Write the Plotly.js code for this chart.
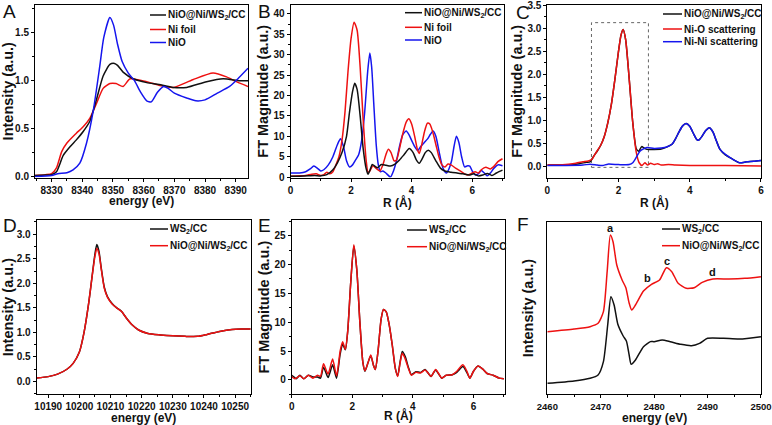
<!DOCTYPE html>
<html>
<head>
<meta charset="utf-8">
<script src="https://cdn.plot.ly/plotly-3.0.1.min.js"></script>
<style>
  html, body { margin: 0; padding: 0; background: #fff; }
  #chart { width: 772px; height: 425px; }
</style>
</head>
<body>
<div id="chart"></div>
<script>
// ---------------- Panel A: Ni K-edge XANES ----------------
const aBlackX = [8324.6, 8328, 8330, 8331.6, 8333.8, 8336, 8338, 8340.3, 8342.5, 8344.6, 8346.8, 8349, 8350.5, 8351.5, 8353.3, 8356.6, 8361, 8365, 8369.6, 8374, 8380.5, 8385.9, 8391.3, 8394];
const aBlackY = [0.01, 0.015, 0.02, 0.05, 0.22, 0.31, 0.38, 0.47, 0.58, 0.8, 1.05, 1.17, 1.18, 1.16, 1.09, 1.02, 0.98, 0.96, 0.93, 0.93, 0.99, 1.02, 1.0, 1.0];
const aRedX = [8324.6, 8328, 8330, 8331.6, 8333.3, 8335, 8338, 8340.3, 8342.5, 8344.6, 8346.8, 8349, 8351, 8353.3, 8355.6, 8361, 8365.3, 8369.6, 8376, 8382.6, 8387, 8390.2, 8394];
const aRedY = [0.01, 0.02, 0.03, 0.09, 0.26, 0.35, 0.45, 0.52, 0.61, 0.76, 0.92, 0.97, 0.97, 0.94, 1.02, 0.99, 0.95, 0.93, 1.01, 1.08, 1.04, 0.99, 0.94];
const aBlueX = [8324.6, 8330, 8332, 8335, 8337, 8339.2, 8341.4, 8343.6, 8345.7, 8347, 8349, 8350.2, 8351.5, 8353, 8355, 8357, 8359, 8361, 8362.5, 8364.5, 8366.5, 8368, 8370, 8374, 8377, 8380, 8384, 8388, 8391, 8394];
const aBlueY = [0.0, 0.01, 0.03, 0.04, 0.07, 0.14, 0.35, 0.69, 1.15, 1.45, 1.66, 1.58, 1.38, 1.2, 1.08, 1.0, 0.88, 0.79, 0.78, 0.88, 0.94, 0.92, 0.87, 0.82, 0.79, 0.8, 0.87, 0.94, 1.03, 1.13];

// ---------------- Panel B: FT EXAFS ----------------
const bBlackX = [0, 0.3, 0.6, 0.8, 1.0, 1.2, 1.4, 1.55, 1.7, 1.85, 1.95, 2.05, 2.12, 2.2, 2.3, 2.4, 2.5, 2.56, 2.63, 2.7, 2.8, 2.87, 3.0, 3.15, 3.3, 3.45, 3.6, 3.75, 3.92, 4.05, 4.15, 4.25, 4.35, 4.45, 4.55, 4.65, 4.8, 4.95, 5.1, 5.3, 5.5, 5.7, 5.9, 6.05, 6.2, 6.35, 6.5, 6.65, 6.8, 7.0];
const bBlackY = [0.2, 0.2, 0.3, 0.4, 0.3, 0.6, 1.8, 3.5, 6.0, 10, 16, 21, 23, 21.5, 15, 7, 2, 0.7, 1.8, 3.1, 2.6, 2.3, 3.1, 2.9, 2.7, 3.2, 4.2, 5.5, 7.0, 6.0, 4.3, 3.4, 4.5, 6.0, 6.6, 6.0, 4.0, 2.2, 1.5, 1.2, 1.0, 0.8, 0.5, 0.8, 0.3, 0.5, 0.9, 0.4, 1.0, 1.7];
const bRedX = [0, 0.3, 0.5, 0.7, 0.85, 1.0, 1.1, 1.2, 1.3, 1.4, 1.5, 1.6, 1.7, 1.8, 1.9, 2.0, 2.1, 2.2, 2.3, 2.4, 2.5, 2.56, 2.62, 2.72, 2.85, 2.95, 3.05, 3.15, 3.23, 3.32, 3.42, 3.5, 3.6, 3.72, 3.82, 3.91, 4.0, 4.1, 4.2, 4.25, 4.32, 4.42, 4.52, 4.6, 4.7, 4.8, 4.9, 5.0, 5.1, 5.2, 5.3, 5.45, 5.6, 5.75, 5.85, 6.0, 6.1, 6.2, 6.3, 6.45, 6.6, 6.7, 6.85, 7.0];
const bRedY = [0.2, 0.3, 0.4, 0.7, 0.8, 0.4, 0.6, 1.2, 0.8, 1.3, 3.0, 5.0, 9, 16, 26, 34, 38, 36, 27, 14, 4, 1.2, 1.5, 2.8, 2.0, 1.5, 3.0, 5.5, 6.8, 6.0, 4.0, 4.2, 7, 11, 13.5, 14.3, 13, 10, 6.5, 5.8, 7.5, 11, 13.2, 13, 11, 8, 5, 3, 2.5, 3.2, 3.0, 2.2, 1.5, 0.8, 0.5, 1.0, 1.3, 1.0, 1.8, 2.4, 2.0, 2.5, 3.8, 4.5];
const bBlueX = [0, 0.3, 0.5, 0.65, 0.77, 0.9, 1.0, 1.1, 1.25, 1.4, 1.55, 1.65, 1.75, 1.85, 1.95, 2.05, 2.15, 2.25, 2.35, 2.45, 2.55, 2.62, 2.68, 2.75, 2.83, 2.9, 2.97, 3.05, 3.15, 3.3, 3.4, 3.5, 3.6, 3.7, 3.82, 3.92, 4.0, 4.1, 4.2, 4.3, 4.42, 4.52, 4.62, 4.71, 4.8, 4.9, 5.0, 5.08, 5.15, 5.22, 5.32, 5.4, 5.48, 5.56, 5.65, 5.75, 5.85, 5.92, 6.0, 6.1, 6.2, 6.3, 6.4, 6.5, 6.6, 6.72, 6.85, 7.0];
const bBlueY = [1.0, 1.0, 1.3, 2.0, 2.7, 2.1, 1.5, 1.8, 3.0, 5.0, 8.0, 9.4, 7.5, 4, 2.5, 3, 4.2, 5.5, 9, 16, 26, 30.4, 27, 18, 8, 3, 1.3, 1.5, 1.0, 0.0, 1.5, 4, 7.5, 10.3, 11.3, 10.3, 9, 7.5, 6.5, 7.5, 8.5, 9.3, 10.5, 11.3, 10, 6.5, 3.0, 1.5, 1.0, 1.8, 4, 7.5, 10.0, 8.5, 5, 2.5, 2.8, 2.7, 1.5, 0.5, 0.8, 1.6, 1.0, 0.3, 1.0, 2.2, 3.0, 2.8];

// ---------------- Panel C: EXAFS fitting ----------------
const cBlackX = [0, 0.3, 0.6, 0.9, 1.1, 1.2, 1.3, 1.4, 1.5, 1.6, 1.7, 1.8, 1.9, 2.0, 2.07, 2.13, 2.2, 2.3, 2.4, 2.5, 2.57, 2.65, 2.72, 2.8, 3.0, 3.2, 3.35, 3.5, 3.6, 3.7, 3.8, 3.9, 4.0, 4.1, 4.2, 4.25, 4.35, 4.45, 4.55, 4.65, 4.75, 4.85, 5.0, 5.2, 5.4, 5.6, 5.8, 6.0];
const cBlackY = [0.03, 0.03, 0.03, 0.06, 0.09, 0.1, 0.22, 0.33, 0.46, 0.65, 0.95, 1.35, 1.9, 2.5, 2.85, 2.97, 2.75, 1.9, 0.95, 0.38, 0.33, 0.43, 0.4, 0.37, 0.37, 0.38, 0.42, 0.48, 0.6, 0.75, 0.88, 0.93, 0.87, 0.72, 0.58, 0.57, 0.66, 0.78, 0.84, 0.75, 0.55, 0.37, 0.25, 0.16, 0.08, 0.1, 0.11, 0.13];
const cRedX = [0, 0.3, 0.6, 0.8, 1.0, 1.15, 1.25, 1.35, 1.5, 1.6, 1.7, 1.8, 1.9, 2.0, 2.07, 2.13, 2.2, 2.3, 2.4, 2.5, 2.58, 2.66, 2.74, 2.82, 2.9, 3.0, 3.1, 3.2, 3.4, 3.6, 4.0, 5.0, 6.0];
const cRedY = [0.03, 0.03, 0.05, 0.07, 0.1, 0.12, 0.15, 0.28, 0.46, 0.65, 0.95, 1.35, 1.9, 2.5, 2.85, 2.97, 2.75, 1.9, 0.95, 0.3, 0.08, 0.02, 0.08, 0.03, 0.07, 0.04, 0.06, 0.03, 0.04, 0.03, 0.02, 0.02, 0.01];
const cBlueX = [0, 0.5, 1.0, 1.2, 1.4, 1.55, 1.7, 2.0, 2.3, 2.4, 2.5, 2.6, 2.7, 2.8, 3.0, 3.2, 3.35, 3.5, 3.6, 3.7, 3.8, 3.9, 4.0, 4.1, 4.2, 4.25, 4.35, 4.45, 4.55, 4.65, 4.75, 4.85, 5.0, 5.2, 5.4, 5.6, 5.8, 6.0];
const cBlueY = [0.02, 0.02, 0.03, 0.05, 0.03, 0.02, 0.05, 0.04, 0.04, 0.08, 0.2, 0.33, 0.38, 0.41, 0.39, 0.4, 0.42, 0.48, 0.6, 0.75, 0.88, 0.93, 0.87, 0.72, 0.58, 0.57, 0.66, 0.78, 0.84, 0.75, 0.55, 0.37, 0.26, 0.16, 0.08, 0.1, 0.11, 0.13];
const cBoxX = [1.24, 2.84];
const cBoxY = [-0.02, 3.12];

// ---------------- Panel D: W L3-edge XANES ----------------
const dEnergy = [10186.3, 10190, 10193, 10196, 10198, 10200, 10201.5, 10203, 10204, 10205, 10205.6, 10206.3, 10207, 10208, 10209, 10210.5, 10212, 10213.5, 10215, 10217, 10219, 10222, 10226, 10230, 10234, 10238, 10241, 10245, 10249, 10252, 10255];
const dBlack = [0.07, 0.1, 0.15, 0.25, 0.37, 0.6, 1.0, 1.6, 2.1, 2.6, 2.79, 2.65, 2.32, 1.92, 1.73, 1.59, 1.5, 1.43, 1.3, 1.15, 1.05, 0.98, 0.95, 0.93, 0.92, 0.92, 0.96, 1.02, 1.06, 1.07, 1.07];
const dRed = [0.07, 0.1, 0.15, 0.25, 0.37, 0.6, 1.0, 1.6, 2.1, 2.55, 2.71, 2.6, 2.3, 1.9, 1.72, 1.58, 1.5, 1.43, 1.3, 1.15, 1.05, 0.98, 0.95, 0.93, 0.92, 0.92, 0.96, 1.02, 1.06, 1.07, 1.07];

// ---------------- Panel E: W FT EXAFS ----------------
const eR = [0, 0.1, 0.15, 0.27, 0.4, 0.55, 0.7, 0.85, 0.95, 1.05, 1.2, 1.35, 1.48, 1.6, 1.68, 1.77, 1.85, 1.95, 2.05, 2.15, 2.25, 2.35, 2.42, 2.52, 2.61, 2.7, 2.76, 2.85, 2.95, 3.03, 3.12, 3.22, 3.32, 3.42, 3.5, 3.58, 3.65, 3.75, 3.85, 3.95, 4.1, 4.25, 4.4, 4.5, 4.6, 4.75, 4.85, 4.95, 5.1, 5.3, 5.45, 5.65, 5.78, 5.88, 6.0, 6.15, 6.3, 6.45, 6.65, 6.85, 7.0];
const eBlack = [0.8, 0.4, 0.2, 0.8, 0.2, 0.8, 0.5, 0.5, 0.3, 2.2, 0.4, 2.6, 0.3, 4.5, 6.2, 5.2, 8.5, 17, 23.2, 19, 10, 3, 1.5, 3, 4.2, 2.5, 1.8, 5, 10.5, 12.2, 11.8, 9.5, 6, 2, 0.7, 3.2, 4.9, 4.0, 2.2, 0.9, 1.4, 1.3, 1.8, 1.2, 0.6, 1.7, 1.0, 0.3, 0.8, 0.9, 1.3, 2.3, 1.3, 0.3, 1.5, 2.4, 1.9, 1.1, 0.8, 0.3, 0.2];
const eRed = [0.5, 0.2, 0.3, 0.7, 0.2, 0.8, 0.3, 0.8, 0.6, 2.8, 1.0, 3.6, 0.7, 5.0, 6.6, 5.3, 8.5, 17, 23.4, 19, 10, 3, 1.6, 3, 4.3, 2.5, 1.8, 5, 10.5, 12.2, 11.8, 9.5, 6, 2, 0.6, 3, 4.6, 3.6, 2, 0.8, 1.3, 1.2, 1.7, 1.2, 0.6, 1.8, 1.1, 0.3, 0.8, 0.9, 1.5, 2.6, 1.5, 0.3, 1.5, 2.4, 1.9, 1.1, 0.8, 0.3, 0.2];

// ---------------- Panel F: S K-edge XANES (offset, a.u.) ----------------
const fBlackX = [2460, 2465, 2468, 2469.5, 2470.5, 2471.3, 2471.9, 2472.5, 2473.2, 2474.2, 2474.8, 2475.3, 2475.7, 2476.5, 2478, 2479.3, 2480, 2481.5, 2483, 2485, 2487, 2488.5, 2490, 2493, 2496, 2500];
const fBlackY = [0.33, 0.4, 0.48, 0.58, 0.98, 2.08, 2.93, 2.68, 2.1, 1.75, 1.6, 1.2, 0.9, 1.03, 1.43, 1.58, 1.58, 1.63, 1.58, 1.5, 1.46, 1.53, 1.68, 1.68, 1.66, 1.73];
const fRedX = [2460, 2465, 2468, 2469.5, 2470.5, 2471.2, 2471.8, 2472.3, 2473, 2474, 2474.7, 2475.3, 2475.8, 2476.5, 2478, 2479.5, 2481, 2482.3, 2483.3, 2484.5, 2486, 2487.5, 2489, 2491, 2494, 2497, 2500];
const fRedY = [1.88, 1.96, 2.03, 2.13, 2.48, 3.68, 4.78, 4.58, 3.88, 3.43, 3.2, 2.75, 2.53, 2.68, 3.1, 3.3, 3.43, 3.8, 3.68, 3.33, 3.18, 3.2, 3.36, 3.46, 3.46, 3.48, 3.53];
const fPeakLabels = ['a', 'b', 'c', 'd'];
const fPeakX = [2471.85, 2478.7, 2482.4, 2490.9];
const fPeakY = [4.98, 3.48, 4.0, 3.68];

// ---------------- Legends and labels ----------------
const legendA = ['NiO@Ni/WS<sub>2</sub>/CC', 'Ni foil', 'NiO'];
const legendB = ['NiO@Ni/WS<sub>2</sub>/CC', 'Ni foil', 'NiO'];
const legendC = ['NiO@Ni/WS<sub>2</sub>/CC', 'Ni-O scattering', 'Ni-Ni scattering'];
const legendD = ['WS<sub>2</sub>/CC', 'NiO@Ni/WS<sub>2</sub>/CC'];
const legendE = ['WS<sub>2</sub>/CC', 'NiO@Ni/WS<sub>2</sub>/CC'];
const legendF = ['WS<sub>2</sub>/CC', 'NiO@Ni/WS<sub>2</sub>/CC'];
const panelLetters = ['A', 'B', 'C', 'D', 'E', 'F'];
const xTitles = ['energy (eV)', 'R (Å)', 'R (Å)', 'energy (eV)', 'R (Å)', 'energy (eV)'];
const yTitles = ['Intensity (a.u.)', 'FT Magnitude (a.u.)', 'FT Magnitude (a.u.)', 'Intensity (a.u.)', 'FT Magnitude (a.u.)', 'Intensity (a.u.)'];

// ---------------- Styling ----------------
const W = 772, H = 425;
const FONT = 'Liberation Sans, Arial, sans-serif';
const BLACK = '#111111', RED = '#ee1111', BLUE = '#1515ee';
const px = v => v / W;
const py = v => 1 - v / H;

function line(x, y, color, xa, ya) {
  return { x: x, y: y, type: 'scatter', mode: 'lines', xaxis: xa, yaxis: ya,
           line: { color: color, width: 1.5, shape: 'spline', smoothing: 0.6 },
           showlegend: false, hoverinfo: 'skip' };
}

const traces = [
  line(aRedX, aRedY, RED, 'x', 'y'),
  line(aBlackX, aBlackY, BLACK, 'x', 'y'),
  line(aBlueX, aBlueY, BLUE, 'x', 'y'),
  line(bBlueX, bBlueY, BLUE, 'x2', 'y2'),
  line(bRedX, bRedY, RED, 'x2', 'y2'),
  line(bBlackX, bBlackY, BLACK, 'x2', 'y2'),
  line(cBlackX, cBlackY, BLACK, 'x3', 'y3'),
  line(cRedX, cRedY, RED, 'x3', 'y3'),
  line(cBlueX, cBlueY, BLUE, 'x3', 'y3'),
  line(dEnergy, dBlack, BLACK, 'x4', 'y4'),
  line(dEnergy, dRed, RED, 'x4', 'y4'),
  line(eR, eBlack, BLACK, 'x5', 'y5'),
  line(eR, eRed, RED, 'x5', 'y5'),
  line(fBlackX, fBlackY, BLACK, 'x6', 'y6'),
  line(fRedX, fRedY, RED, 'x6', 'y6')
];

function axis(domain, range, dtick, tick0, minorDtick, anchor, extra) {
  const a = {
    domain: domain, range: range, dtick: dtick, tick0: tick0, anchor: anchor,
    showline: true, mirror: true, linecolor: '#000', linewidth: 1,
    ticks: 'outside', ticklen: 3, tickwidth: 1, tickcolor: '#000', tickangle: 0,
    tickfont: { family: FONT, size: 10, color: '#111', weight: 'bold' },
    showgrid: false, zeroline: false, fixedrange: true,
    minor: { dtick: minorDtick, tick0: tick0, ticks: 'outside', ticklen: 2, tickcolor: '#000', showgrid: false }
  };
  return Object.assign(a, extra || {});
}
function yTitle(i, standoff) {
  return { title: { text: yTitles[i], font: { family: FONT, size: 14.5, color: '#111', weight: 'bold' }, standoff: standoff } };
}

const topY = [py(177.5), py(5)];
const botY = [py(394.3), py(220)];
const botYF = [py(394.3), py(221.7)];

const layout = {
  width: W, height: H,
  margin: { l: 0, r: 0, t: 0, b: 0 },
  paper_bgcolor: '#fff', plot_bgcolor: '#fff',
  showlegend: false,
  font: { family: FONT, color: '#111' },
  xaxis:  axis([px(35), px(248)], [8324.6, 8394], 10, 8330, 5, 'y'),
  yaxis:  axis(topY, [-0.01, 1.79], 0.5, 0, 0.25, 'x', Object.assign({ tickformat: '.1f' }, yTitle(0, 1))),
  xaxis2: axis([px(290.5), px(504)], [0, 7.05], 2, 0, 1, 'y2'),
  yaxis2: axis(topY, [-0.1, 42.2], 5, 0, 2.5, 'x2', yTitle(1, 1)),
  xaxis3: axis([px(547.3), px(761)], [0, 6.001], 2, 0, 1, 'y3', { ticklabeloverflow: 'allow' }),
  yaxis3: axis(topY, [-0.24, 3.503], 0.5, 0, 0.25, 'x3', Object.assign({ tickformat: '.1f' }, yTitle(2, 1))),
  xaxis4: axis([px(36.7), px(250.7)], [10186.3, 10255], 10, 10190, 5, 'y4', { tickformat: 'd' }),
  yaxis4: axis(botY, [-0.26, 3.29], 0.5, 0, 0.25, 'x4', Object.assign({ tickformat: '.1f' }, yTitle(3, 1))),
  xaxis5: axis([px(291.7), px(505)], [0, 7.04], 2, 0, 1, 'y5'),
  yaxis5: axis(botY, [-2.5, 27.7], 5, 0, 2.5, 'x5', yTitle(4, 1)),
  xaxis6: axis([px(547.3), px(761)], [2459.99, 2500.01], 10, 2460, 5, 'y6',
               { tickformat: 'd', ticklabeloverflow: 'allow', tickfont: { family: FONT, size: 9.5, color: '#111', weight: 'bold' } }),
  yaxis6: axis(botYF, [0, 5.18], 1, 0, 0.5, 'x6', Object.assign({ showticklabels: false, ticks: '', minor: { ticks: '' } }, yTitle(5, 9))),
  shapes: [],
  annotations: []
};

// x-axis titles (placed like the original, close under the tick labels)
const xTitleY = [201, 202, 202, 417.5, 415, 417.5];
['x', 'x2', 'x3', 'x4', 'x5', 'x6'].forEach((ax, i) => {
  layout.annotations.push({ xref: ax + ' domain', yref: 'paper', x: 0.5, y: py(xTitleY[i]), xanchor: 'center', yanchor: 'middle',
    text: xTitles[i], showarrow: false, font: { family: FONT, size: 12, color: '#111', weight: 'bold' } });
});

// dotted fitting window in panel C
layout.shapes.push({ type: 'rect', xref: 'x3', yref: 'y3', x0: cBoxX[0], x1: cBoxX[1], y0: cBoxY[0], y1: cBoxY[1],
  line: { color: '#666', width: 1, dash: 'dot' }, fillcolor: 'rgba(0,0,0,0)', layer: 'below' });

// manual legends (short line samples as in the original)
function addLegend(labels, colors, xs0, xs1, xt, rows) {
  labels.forEach((lab, i) => {
    layout.shapes.push({ type: 'line', xref: 'paper', yref: 'paper', x0: px(xs0), x1: px(xs1), y0: py(rows[i]), y1: py(rows[i]),
      line: { color: colors[i], width: 1.5 } });
    layout.annotations.push({ xref: 'paper', yref: 'paper', x: px(xt), y: py(rows[i]), xanchor: 'left', yanchor: 'middle',
      text: lab, showarrow: false, font: { family: FONT, size: 10, color: '#111', weight: 'bold' } });
  });
}
addLegend(legendA, [BLACK, RED, BLUE], 150, 166, 166, [15, 29.5, 42.5]);
addLegend(legendB, [BLACK, RED, BLUE], 405, 422, 422, [12.7, 27.3, 40]);
addLegend(legendC, [BLACK, RED, BLUE], 663, 682, 682, [14, 29, 41.7]);
addLegend(legendD, [BLACK, RED], 150, 168, 168, [229, 245.7]);
addLegend(legendE, [BLACK, RED], 407, 427, 427, [230, 246.7]);
addLegend(legendF, [BLACK, RED], 662, 680, 680, [229, 245.7]);

// peak labels in panel F
fPeakLabels.forEach((t, i) => {
  layout.annotations.push({ xref: 'x6', yref: 'y6', x: fPeakX[i], y: fPeakY[i], text: t, showarrow: false,
    xanchor: 'center', yanchor: 'middle', font: { family: FONT, size: 11, color: '#111', weight: 'bold' } });
});

// panel letters
const letterPos = [[1, -1], [256, -1], [514, 0], [1, 213], [256, 213], [515, 212]];
panelLetters.forEach((t, i) => {
  layout.annotations.push({ xref: 'paper', yref: 'paper', x: px(letterPos[i][0]), y: py(letterPos[i][1]),
    xanchor: 'left', yanchor: 'top', text: t, showarrow: false,
    font: { family: FONT, size: 19, color: '#111' } });
});

Plotly.newPlot('chart', traces, layout, { displayModeBar: false, staticPlot: true });
</script>
</body>
</html>
